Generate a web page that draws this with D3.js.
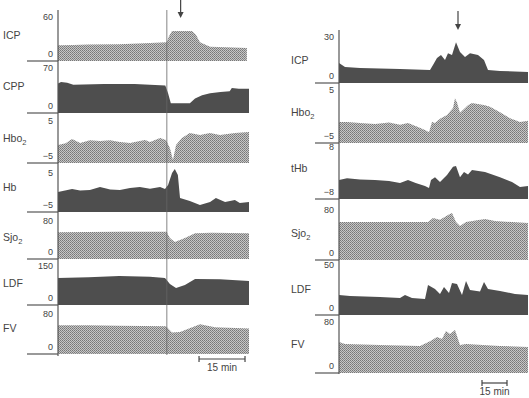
<!DOCTYPE html>
<html lang="en">
  <head>
    <meta charset="UTF-8" />
    <title>Monitoring traces</title>
    <script src="https://d3js.org/d3.v7.min.js"></script>
    <style>
      body {
        margin: 0;
        background: #fff;
        font-family: "Liberation Sans", Arial, sans-serif;
      }
      svg {
        display: block;
      }
    </style>
  </head>
  <body>
    <svg width="529" height="398"></svg>
    <script>
      // data: [minutes, value]
      const leftIcp = [[0,21],[5,21.5],[10,22],[20,22.5],[30,24],[35.5,25],[36.2,33],[37.2,40],[43.7,40],[45,35],[46.3,25],[49.6,19],[55,18.5],[61.6,17.5]];
      const leftCpp = [[0,45],[1,47],[3,46],[5,43],[15,44],[25,44],[35,42],[35.9,30],[36.8,15],[43,15],[44.7,22],[47,27],[49.6,30],[53,32],[56,33],[56.7,38],[59,37],[62.3,37]];
      const leftHbo2 = [[0,-0.8],[2.5,-0.4],[4.6,0.6],[7.2,-0.35],[10.4,0.3],[13.7,0.1],[17,0.3],[20.2,-0.1],[23.5,-0.35],[26.7,0.1],[28.4,0.35],[30,-0.1],[33.3,0.8],[35.2,0.35],[36.5,-1.5],[37.5,-4.3],[38.5,-0.8],[40.4,0.8],[43,2],[46.3,1.5],[49.6,2],[52.8,1.5],[57.7,2],[62.3,2.2]];
      const leftHb = [[0,0],[4.6,0.75],[7.2,0.4],[10.4,0.5],[13.7,1.25],[17,0.6],[20.2,0.5],[23.5,1],[26.7,1.25],[30,0.8],[33.3,1.25],[34.9,0.75],[35.9,1.75],[37.2,4.75],[38.1,5.75],[39.1,4.25],[39.8,-1.5],[43,-2.25],[46.3,-3.25],[49.6,-2.5],[51.5,-1.5],[54.5,-2.5],[57.7,-2],[59.3,-2.75],[62.3,-2.5]];
      const leftSjo2 = [[0,55],[10,55.5],[20,56],[35.4,56],[36.5,43],[38.1,35],[41.4,43],[44.7,53],[50,54],[62.3,53]];
      const leftLdf = [[0,101],[10,104],[20,109],[30,106],[34.9,101],[36.5,79],[38.5,64],[41.4,75],[44.7,97.5],[52.8,97],[62.3,90]];
      const leftFv = [[0,56],[10,56],[20,55],[35.2,54],[37.2,42],[39.8,43],[46.3,58],[51.2,52],[62.3,50]];

      const rightIcp = [[0,12.8],[3.6,10.2],[12.6,9.6],[36.6,8.9],[54.6,8.3],[56.4,11.5],[58.8,16],[61.2,17.9],[63.6,14.7],[65.4,19],[67.8,17.9],[70.2,26],[72.6,19.8],[75.6,16.6],[78.6,19],[83.4,17.9],[87,14.7],[89.4,8.3],[96.6,7.7],[113.4,7]];
      const rightHbo2 = [[0,-1.1],[4.8,-1.1],[12.6,-1.3],[21.6,-1.5],[30,-1.2],[36.6,-1.6],[41.4,-1.3],[47,-2],[51.6,-2.6],[54,-3],[55.8,-1.1],[57.6,-1.3],[60.6,-0.5],[64.8,0.2],[68.4,1.5],[69.6,3.3],[70.8,2.5],[72.6,0.6],[77.4,2],[79.8,2.4],[87.6,2],[90.6,1.7],[96.6,0.7],[102.6,-0.4],[108.6,-1.1],[113.4,-0.9]];
      const rightThb = [[0,-2.3],[4.8,-1.7],[12.6,-2.1],[21.6,-2.3],[30,-2.6],[36.6,-3.2],[41.4,-2.3],[46,-3.2],[51.6,-4.1],[54,-4.7],[55.2,-2.3],[57.6,-1.4],[60.6,-2.9],[64.8,-0.75],[68.4,1.7],[70.2,2],[72.6,-1.4],[75,0.15],[77.4,-0.6],[79.8,0.75],[87.6,0.15],[96.6,-1.4],[103.8,-2.9],[108.6,-4.4],[113.4,-4.1]];
      const rightSjo2 = [[0,59.6],[30,59.6],[53.4,59.6],[56.4,65.9],[60.6,63],[65.4,70.6],[67.8,73.7],[70.2,59.6],[72.6,53.3],[76.2,59.6],[87.6,64.3],[93.6,61],[113.4,58]];
      const rightLdf = [[0,19.6],[6.6,18.6],[24.6,17.6],[36.6,16.7],[39.6,19.6],[43.8,16.7],[51.6,15.7],[53.4,29.4],[57.6,25.5],[60.6,20.6],[63,27.5],[66,21.6],[67.8,31.4],[70.8,30.4],[73.8,19.6],[76.2,33.3],[78.6,24.5],[84.6,23],[87,32.4],[89.4,25.5],[96.6,23.5],[105.6,20.6],[113.4,19.6]];
      const rightFv = [[0,47.7],[3.6,44.6],[24.6,43],[48.6,41.5],[54.6,49],[58.8,55.4],[61.8,52.4],[64.2,64.6],[66.6,60],[69.6,66],[72.6,43],[76.2,44.6],[96.6,41.5],[113.4,40]];

      const leftNames = ["ICP", "CPP", "Hbo2", "Hb", "Sjo2", "LDF", "FV"];
      const leftTicks = [["60", "0"], ["70", "0"], ["5", "−5"], ["5", "−5"], ["80", "0"], ["150", "0"], ["80", "0"]];
      const leftDomains = [[0, 60], [0, 70], [-5, 5], [-5, 5], [0, 80], [0, 150], [0, 80]];
      const rightNames = ["ICP", "Hbo2", "tHb", "Sjo2", "LDF", "FV"];
      const rightTicks = [["30", "0"], ["5", "−5"], ["8", "−8"], ["80", "0"], ["50", "0"], ["80", "0"]];
      const rightDomains = [[0, 30], [-5, 5], [-8, 8], [0, 80], [0, 50], [0, 80]];

      const svg = d3.select("svg");

      // stippled halftone fill
      const defs = svg.append("defs");
      const pat = defs.append("pattern")
        .attr("id", "stip")
        .attr("width", 2)
        .attr("height", 2)
        .attr("patternUnits", "userSpaceOnUse");
      pat.append("rect").attr("width", 2).attr("height", 2).attr("fill", "#c6c6c6");
      pat.append("rect").attr("width", 1).attr("height", 1).attr("fill", "#777");
      pat.append("rect").attr("x", 1).attr("y", 1).attr("width", 1).attr("height", 1).attr("fill", "#888");

      const panels = [
        {
          data: [leftIcp, leftCpp, leftHbo2, leftHb, leftSjo2, leftLdf, leftFv],
          names: leftNames, ticks: leftTicks, domains: leftDomains,
          dark: [false, true, false, true, false, true, false],
          // [baseline, top] in px for each strip
          bands: [[61, 16], [113, 67], [163, 120], [212, 172], [259, 220], [305, 265], [354, 313]],
          labelY: [35, 86, 138, 187, 237, 283, 328],
          x: d3.scaleLinear().domain([0, 62.3]).range([58, 249]),
          labelX: 3, lineFrom: 27, axisTop: 10, axisBottom: 356,
          marker: 35.5, arrow: 40, arrowY: [0, 18],
          bar: [46, 61], barY: 359
        },
        {
          data: [rightIcp, rightHbo2, rightThb, rightSjo2, rightLdf, rightFv],
          names: rightNames, ticks: rightTicks, domains: rightDomains,
          dark: [true, false, true, false, true, false],
          bands: [[83, 36], [143, 89], [199, 146], [260, 209], [315, 264], [373, 321]],
          labelY: [60, 112, 168, 233, 289, 344],
          x: d3.scaleLinear().domain([0, 113.4]).range([339, 528]),
          labelX: 291, lineFrom: 315, axisTop: 30, axisBottom: 374,
          marker: null, arrow: 71.4, arrowY: [11, 30],
          bar: [85.8, 100.8], barY: 383
        }
      ];

      panels.forEach((p) => {
        const g = svg.append("g");
        const x0 = p.x.range()[0];

        p.data.forEach((series, i) => {
          const [base, top] = p.bands[i];
          const y = d3.scaleLinear().domain(p.domains[i]).range([base, top]);

          const area = d3.area()
            .x((d) => p.x(d[0]))
            .y0(base)
            .y1((d) => y(d[1]))
            .curve(d3.curveLinear);

          g.append("path")
            .datum(series)
            .attr("d", area)
            .attr("fill", p.dark[i] ? "#4e4e4e" : "url(#stip)");

          // baseline rule
          g.append("line")
            .attr("x1", p.lineFrom).attr("x2", x0)
            .attr("y1", base).attr("y2", base)
            .attr("stroke", "#555").attr("stroke-width", 1.2);

          // tick labels
          g.append("text")
            .attr("x", x0 - 5).attr("y", top + 4)
            .attr("text-anchor", "end")
            .attr("font-size", 9).attr("fill", "#444")
            .text(p.ticks[i][0]);
          g.append("text")
            .attr("x", x0 - 5).attr("y", base - 4)
            .attr("text-anchor", "end")
            .attr("font-size", 9).attr("fill", "#444")
            .text(p.ticks[i][1]);

          // trace name, with subscript 2 for oxygen
          const name = p.names[i];
          const t = g.append("text")
            .attr("x", p.labelX).attr("y", p.labelY[i] + 4)
            .attr("font-size", 10.5).attr("fill", "#444");
          if (name.endsWith("o2")) {
            t.append("tspan").text(name.slice(0, -1));
            t.append("tspan").attr("dy", 3).attr("font-size", 7.5).text("2");
          } else {
            t.text(name);
          }
        });

        // vertical axis
        g.append("line")
          .attr("x1", x0).attr("x2", x0)
          .attr("y1", p.axisTop).attr("y2", p.axisBottom)
          .attr("stroke", "#555").attr("stroke-width", 1.2);

        // event marker line
        if (p.marker !== null) {
          g.append("line")
            .attr("x1", p.x(p.marker)).attr("x2", p.x(p.marker))
            .attr("y1", 10).attr("y2", 355)
            .attr("stroke", "#666").attr("stroke-width", 0.8);
        }

        // arrow
        const ax = p.x(p.arrow);
        g.append("line")
          .attr("x1", ax).attr("x2", ax)
          .attr("y1", p.arrowY[0]).attr("y2", p.arrowY[1] - 3)
          .attr("stroke", "#444").attr("stroke-width", 1.2);
        g.append("path")
          .attr("d", `M${ax - 3},${p.arrowY[1] - 6} L${ax + 3},${p.arrowY[1] - 6} L${ax},${p.arrowY[1]} Z`)
          .attr("fill", "#444");

        // 15 min scale bar
        const b0 = p.x(p.bar[0]), b1 = p.x(p.bar[1]);
        g.append("line")
          .attr("x1", b0).attr("x2", b1)
          .attr("y1", p.barY).attr("y2", p.barY)
          .attr("stroke", "#444").attr("stroke-width", 1.2);
        [b0, b1].forEach((bx) => {
          g.append("line")
            .attr("x1", bx).attr("x2", bx)
            .attr("y1", p.barY - 3).attr("y2", p.barY + 3)
            .attr("stroke", "#444").attr("stroke-width", 1.2);
        });
        g.append("text")
          .attr("x", (b0 + b1) / 2).attr("y", p.barY + 12)
          .attr("text-anchor", "middle")
          .attr("font-size", 10).attr("fill", "#444")
          .text("15 min");
      });
    </script>
  </body>
</html>
